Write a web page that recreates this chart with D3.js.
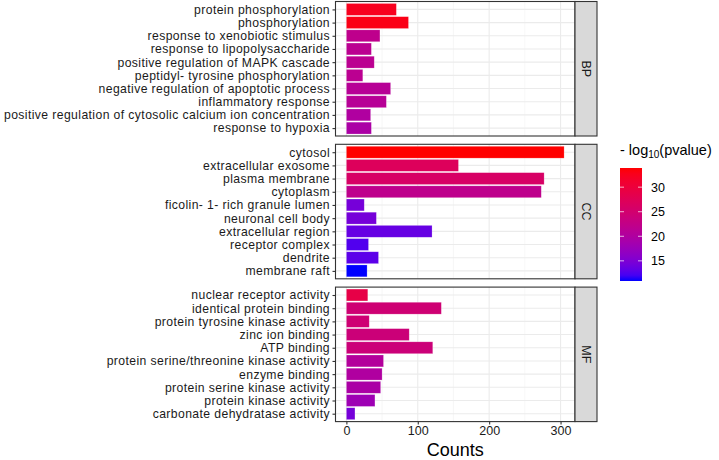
<!DOCTYPE html>
<html>
<head>
<meta charset="utf-8">
<script src="https://cdn.jsdelivr.net/npm/d3@7"></script>
<style>
  body { margin: 0; background: #fff; }
  text { font-family: "Liberation Sans", Arial, sans-serif; }
</style>
</head>
<body>
<script>
// Width and height
var w = 719;
var h = 460;

// Data: one list of terms, counts and -log10(p) per ontology
var groups = ["BP", "CC", "MF"];

var bpTerms = ["protein phosphorylation", "phosphorylation", "response to xenobiotic stimulus",
  "response to lipopolysaccharide", "positive regulation of MAPK cascade",
  "peptidyl- tyrosine phosphorylation", "negative regulation of apoptotic process",
  "inflammatory response", "positive regulation of cytosolic calcium ion concentration",
  "response to hypoxia"];
var bpCounts = [70, 87, 47, 35, 39, 23, 62, 56, 34, 35];
var bpLogP = [32.5, 33, 22, 21.5, 21.5, 21.5, 21, 21, 20, 19.5];

var ccTerms = ["cytosol", "extracellular exosome", "plasma membrane", "cytoplasm",
  "ficolin- 1- rich granule lumen", "neuronal cell body", "extracellular region",
  "receptor complex", "dendrite", "membrane raft"];
var ccCounts = [305, 157, 277, 273, 25, 42, 120, 31, 45, 29];
var ccLogP = [33.9, 27, 26, 22, 14.5, 14.5, 13.5, 12.5, 13, 10.9];

var mfTerms = ["nuclear receptor activity", "identical protein binding",
  "protein tyrosine kinase activity", "zinc ion binding", "ATP binding",
  "protein serine/threonine kinase activity", "enzyme binding",
  "protein serine kinase activity", "protein kinase activity",
  "carbonate dehydratase activity"];
var mfCounts = [30, 133, 32, 88, 121, 52, 50, 48, 40, 12];
var mfLogP = [29, 24.5, 24.5, 24, 24, 20.5, 20, 19.5, 18, 14.5];

var xTicks = [0, 100, 200, 300];
var legendTicks = [15, 20, 25, 30];

var panels = [
  { name: groups[0], terms: bpTerms, counts: bpCounts, logp: bpLogP },
  { name: groups[1], terms: ccTerms, counts: ccCounts, logp: ccLogP },
  { name: groups[2], terms: mfTerms, counts: mfCounts, logp: mfLogP }
];

// Layout
var panelLeft = 335.5, panelRight = 575;
var panelTop = 1.5, panelH = 134.5, panelGap = 8.3;
var stripW = 22;

var svg = d3.select("body")
            .append("svg")
            .attr("width", w)
            .attr("height", h);

var maxCount = d3.max(panels, function(p) { return d3.max(p.counts); });
var x = d3.scaleLinear()
          .domain([-0.05 * maxCount, 1.05 * maxCount])
          .range([panelLeft, panelRight]);

var pMin = d3.min(panels, function(p) { return d3.min(p.logp); });
var pMax = d3.max(panels, function(p) { return d3.max(p.logp); });
var color = d3.scaleLinear()
              .domain([pMin, pMax])
              .range(["blue", "red"])
              .interpolate(d3.interpolateLab);

panels.forEach(function(p, k) {
  var top = panelTop + k * (panelH + panelGap);
  var y = d3.scalePoint()
            .domain(p.terms)
            .range([top, top + panelH])
            .padding(0.6);
  var band = y.step() * 0.9;
  var g = svg.append("g");

  // panel background and grid
  g.append("rect")
   .attr("x", panelLeft).attr("y", top)
   .attr("width", panelRight - panelLeft).attr("height", panelH)
   .attr("fill", "white");

  g.selectAll("line.minor")
   .data([50, 150, 250])
   .enter().append("line")
   .attr("x1", function(d) { return x(d); }).attr("x2", function(d) { return x(d); })
   .attr("y1", top).attr("y2", top + panelH)
   .attr("stroke", "#f2f2f2").attr("stroke-width", 0.6);

  g.selectAll("line.major")
   .data(xTicks)
   .enter().append("line")
   .attr("x1", function(d) { return x(d); }).attr("x2", function(d) { return x(d); })
   .attr("y1", top).attr("y2", top + panelH)
   .attr("stroke", "#ebebeb").attr("stroke-width", 1.1);

  g.selectAll("line.hgrid")
   .data(p.terms)
   .enter().append("line")
   .attr("x1", panelLeft).attr("x2", panelRight)
   .attr("y1", function(d) { return y(d); }).attr("y2", function(d) { return y(d); })
   .attr("stroke", "#ebebeb").attr("stroke-width", 1.1);

  // bars
  g.selectAll("rect.bar")
   .data(p.terms)
   .enter().append("rect")
   .attr("x", x(0))
   .attr("y", function(d) { return y(d) - band / 2; })
   .attr("width", function(d, i) { return x(p.counts[i]) - x(0); })
   .attr("height", band)
   .attr("fill", function(d, i) { return color(p.logp[i]); })
   .attr("stroke", "white").attr("stroke-opacity", 0.35).attr("stroke-width", 0.6);

  // border
  g.append("rect")
   .attr("x", panelLeft).attr("y", top)
   .attr("width", panelRight - panelLeft).attr("height", panelH)
   .attr("fill", "none").attr("stroke", "#333333").attr("stroke-width", 1.1);

  // y axis
  var yAxis = d3.axisLeft(y).tickSize(3).tickPadding(2.5);
  var ya = svg.append("g")
              .attr("transform", "translate(" + panelLeft + ",0)")
              .call(yAxis);
  ya.select(".domain").remove();
  ya.selectAll(".tick line").attr("stroke", "#333333").attr("stroke-width", 1.1);
  ya.selectAll(".tick text")
    .attr("font-size", "12.2px")
    .attr("letter-spacing", "0.4px")
    .attr("fill", "#1a1a1a")
    .attr("font-family", "Liberation Sans, Arial, sans-serif");

  // strip
  var sx = panelRight;
  svg.append("rect")
     .attr("x", sx).attr("y", top)
     .attr("width", stripW).attr("height", panelH)
     .attr("fill", "#d9d9d9").attr("stroke", "#333333").attr("stroke-width", 1.1);
  svg.append("text")
     .text(p.name)
     .attr("transform", "translate(" + (sx + stripW / 2) + "," + (top + panelH / 2) + ") rotate(90)")
     .attr("text-anchor", "middle")
     .attr("dy", "0.35em")
     .attr("font-size", "12.5px")
     .attr("fill", "#1a1a1a");
});

// x axis
var bottom = panelTop + 3 * panelH + 2 * panelGap;
var xAxis = d3.axisBottom(x).tickValues(xTicks).tickSize(3).tickPadding(2);
var xa = svg.append("g")
            .attr("transform", "translate(0," + bottom + ")")
            .call(xAxis);
xa.select(".domain").remove();
xa.selectAll(".tick line").attr("stroke", "#333333").attr("stroke-width", 1.1);
xa.selectAll(".tick text")
  .attr("font-size", "12.5px")
  .attr("fill", "#1a1a1a")
  .attr("font-family", "Liberation Sans, Arial, sans-serif");

svg.append("text")
   .text("Counts")
   .attr("x", (panelLeft + panelRight) / 2)
   .attr("y", 456)
   .attr("text-anchor", "middle")
   .attr("font-size", "18px")
   .attr("fill", "black");

// legend
var lx = 620, ly = 168, lw = 22, lh = 113;
var title = svg.append("text")
               .attr("x", lx).attr("y", 155)
               .attr("font-size", "14.5px")
               .attr("fill", "black");
title.append("tspan").text("- log");
title.append("tspan").text("10").attr("font-size", "10px").attr("dy", 3);
title.append("tspan").text("(pvalue)").attr("dy", -3);

var grad = svg.append("defs").append("linearGradient")
              .attr("id", "lg")
              .attr("x1", 0).attr("y1", 1).attr("x2", 0).attr("y2", 0);
d3.range(0, 1.0001, 0.05).forEach(function(t) {
  grad.append("stop")
      .attr("offset", t)
      .attr("stop-color", color(pMin + t * (pMax - pMin)));
});
svg.append("rect")
   .attr("x", lx).attr("y", ly)
   .attr("width", lw).attr("height", lh)
   .attr("fill", "url(#lg)");

var ls = d3.scaleLinear().domain([pMin, pMax]).range([ly + lh, ly]);
var lt = svg.append("g").selectAll("g")
            .data(legendTicks)
            .enter().append("g");
lt.append("line")
  .attr("x1", lx).attr("x2", lx + 4)
  .attr("y1", function(d) { return ls(d); }).attr("y2", function(d) { return ls(d); })
  .attr("stroke", "white").attr("stroke-opacity", 0.7);
lt.append("line")
  .attr("x1", lx + lw - 4).attr("x2", lx + lw)
  .attr("y1", function(d) { return ls(d); }).attr("y2", function(d) { return ls(d); })
  .attr("stroke", "white").attr("stroke-opacity", 0.7);
lt.append("text")
  .text(function(d) { return d; })
  .attr("x", lx + lw + 9)
  .attr("y", function(d) { return ls(d); })
  .attr("dy", "0.35em")
  .attr("font-size", "12.5px")
  .attr("fill", "black");
</script>
</body>
</html>
